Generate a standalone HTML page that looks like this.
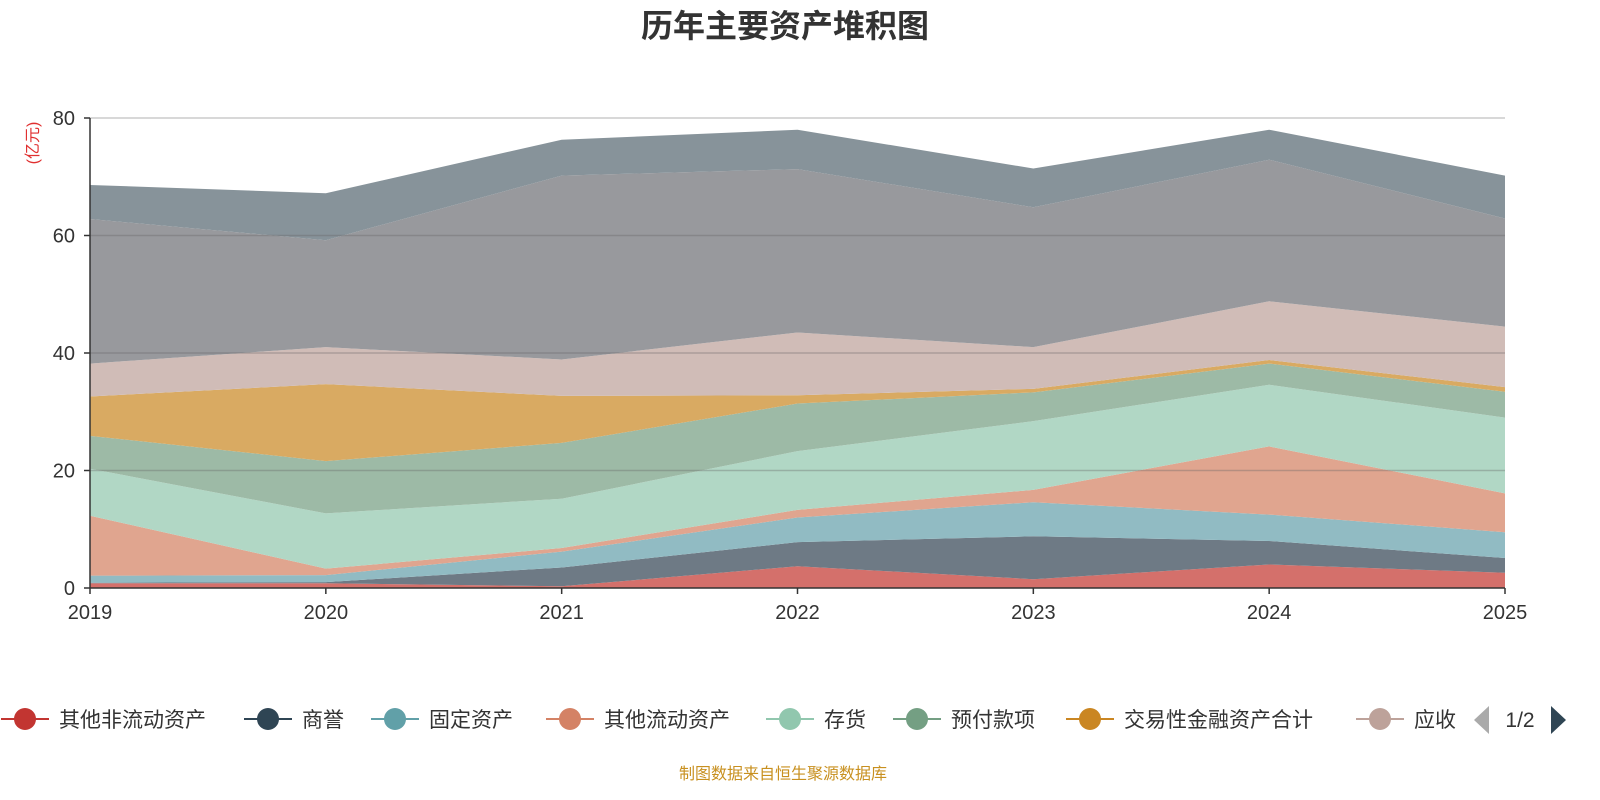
<!DOCTYPE html>
<html><head><meta charset="utf-8"><style>
body{margin:0;width:1600px;height:800px;background:#fff;overflow:hidden;font-family:"Liberation Sans","Noto Sans CJK SC",sans-serif}
svg{display:block}
</style></head><body>
<svg id="c" width="1600" height="800">
<text x="785" y="37" text-anchor="middle" font-size="32" font-weight="bold" fill="#333" font-family="Liberation Sans,Noto Sans CJK SC,sans-serif">历年主要资产堆积图</text>
<text x="38" y="143" font-size="16" fill="#e03030" transform="rotate(-90 38 143)" text-anchor="middle" font-family="Liberation Sans,Noto Sans CJK SC,sans-serif">(亿元)</text>
<g id="areas"></g><g id="grid"></g><g id="axes"></g><g id="legend"></g>
<text x="783" y="779" text-anchor="middle" font-size="16" fill="#c8901f" font-family="Liberation Sans,Noto Sans CJK SC,sans-serif">制图数据来自恒生聚源数据库</text>
</svg>
<script>
const years=["2019","2020","2021","2022","2023","2024","2025"];
const yTicks=[0,20,40,60,80];
const names=["其他非流动资产","商誉","固定资产","其他流动资产","存货","预付款项","交易性金融资产合计","应收账款","货币资金","其他"];
const s1=[0.8,0.8,0.3,3.7,1.5,4.0,2.6];
const s2=[0.1,0.2,3.2,4.1,7.3,4.0,2.5];
const s3=[1.2,1.2,2.7,4.2,5.8,4.5,4.4];
const s4=[10.2,1.1,0.6,1.3,2.1,11.6,6.6];
const s5=[8.0,9.4,8.4,10.0,11.7,10.5,12.9];
const s6=[5.6,8.9,9.5,8.1,4.9,3.6,4.4];
const s7=[6.7,13.1,8.0,1.4,0.6,0.6,0.8];
const s8=[5.6,6.3,6.2,10.7,7.1,10.0,10.3];
const s9=[24.6,18.2,31.3,27.8,23.8,24.1,18.4];
const s10=[5.8,8.0,6.1,6.7,6.6,5.1,7.3];
const series=[s1,s2,s3,s4,s5,s6,s7,s8,s9,s10];
const fills=["#d4706b","#6e7a85","#91bbc3","#e0a58f","#b1d7c5","#9dbaa6","#d9aa62","#d0bcb7","#98999d","#87939a"];
const legendColors=["#c23531","#2f4554","#61a0a8","#d48265","#91c7ae","#749f83","#ca8622","#bda29a"];
const NS="http://www.w3.org/2000/svg";
const X=i=>90+i*(1505-90)/(years.length-1);
const Y=v=>588-v*(470/80);
function mk(t,a,p){const e=document.createElementNS(NS,t);for(const k in a)e.setAttribute(k,a[k]);p.appendChild(e);return e;}
const areas=document.getElementById('areas');
let base=years.map(()=>0);
series.forEach((s,k)=>{
  const top=base.map((b,i)=>b+s[i]);
  let d="M"+top.map((v,i)=>X(i)+","+Y(v)).join("L");
  for(let i=years.length-1;i>=0;i--)d+="L"+X(i)+","+Y(base[i]);
  const p=mk('path',{d:d+"Z",fill:fills[k]},areas);
  
  
  base=top;
});
const grid=document.getElementById('grid'),axes=document.getElementById('axes');
yTicks.forEach(v=>{
  if(v>0){const l=mk('line',{x1:90,x2:1505,y1:Y(v),y2:Y(v),stroke:v==80?"#ccc":"rgba(100,100,100,0.35)","stroke-width":1.5},grid);
  }
  const t=mk('text',{x:75,y:Y(v)+7,"text-anchor":"end","font-size":20,fill:"#333"},axes);t.textContent=v;
  
  mk('line',{x1:84,x2:90,y1:Y(v),y2:Y(v),stroke:"#333","stroke-width":1.5},axes);
});
mk('line',{x1:90,x2:90,y1:118,y2:588,stroke:"#333","stroke-width":1.5},axes);
mk('line',{x1:90,x2:1505,y1:588,y2:588,stroke:"#333","stroke-width":1.5},axes);
years.forEach((y,i)=>{
  mk('line',{x1:X(i),x2:X(i),y1:588,y2:594,stroke:"#333","stroke-width":1.5},axes);
  const t=mk('text',{x:X(i),y:619,"text-anchor":"middle","font-size":20,fill:"#333"},axes);t.textContent=y;
  
});
const lg=document.getElementById('legend');
const lx=[25,268,395,570,790,917,1090,1380];
names.slice(0,8).forEach((n,i)=>{
  const g=mk('g',{},lg);
  
  
  mk('line',{x1:lx[i]-24,x2:lx[i]+24,y1:719,y2:719,stroke:legendColors[i],"stroke-width":2},g);
  mk('circle',{cx:lx[i],cy:719,r:11,fill:legendColors[i]},g);
  const t=mk('text',{x:lx[i]+34,y:727,"font-size":21,fill:"#333"},g);
  t.textContent=i==7?"应收":n;
});
mk('rect',{x:1468,y:700,width:10,height:40,fill:"#fff"},lg);
const pl=mk('path',{d:"M1489,706L1489,734L1474,720Z",fill:"#aaa"},lg);

const pt=mk('text',{x:1520,y:727,"text-anchor":"middle","font-size":21,fill:"#333"},lg);pt.textContent="1/2";
const pn=mk('path',{d:"M1551,706L1551,734L1566,720Z",fill:"#2f4554"},lg);

</script>
</body></html>
